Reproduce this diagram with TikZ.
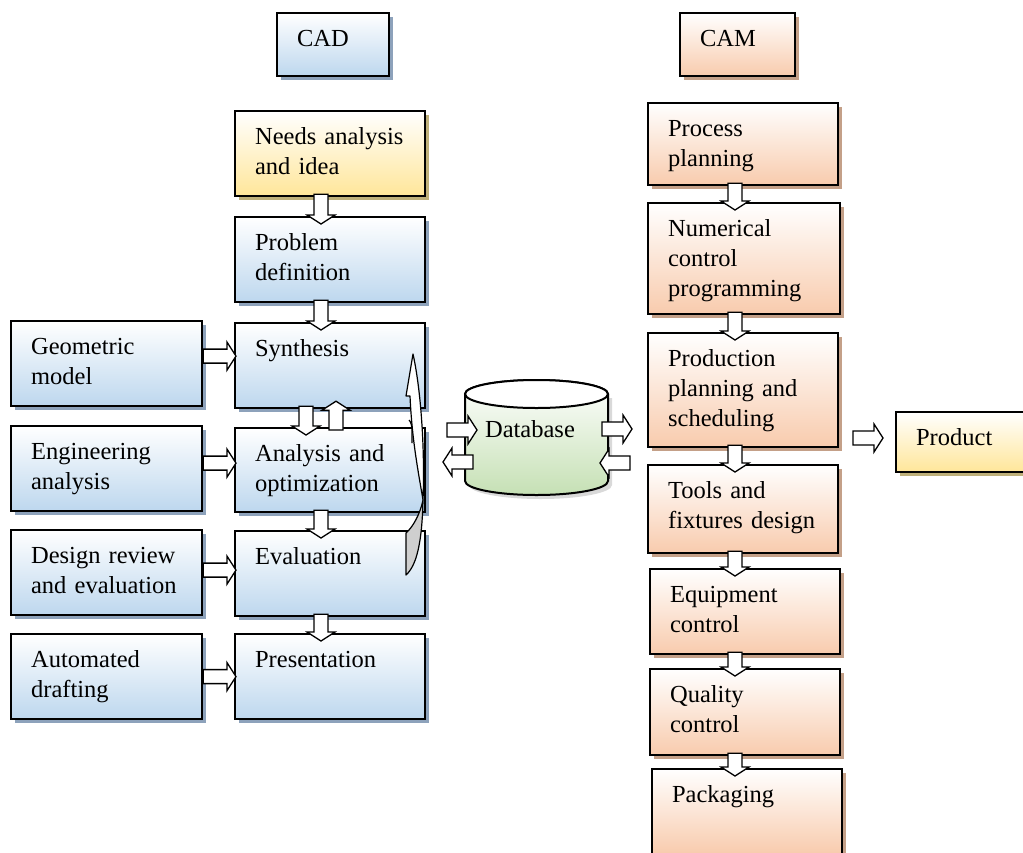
\documentclass[tikz,border=0pt]{standalone}
\usepackage{fontspec}
\setmainfont{Liberation Serif}
\usepackage{tikz}
\usetikzlibrary{calc}
\usetikzlibrary{positioning}

\definecolor{cadblue}{RGB}{189,215,238}
\definecolor{cadshadow}{RGB}{141,162,187}
\definecolor{camorange}{RGB}{248,203,173}
\definecolor{camshadow}{RGB}{196,160,136}
\definecolor{ideayellow}{RGB}{255,230,153}
\definecolor{ideashadow}{RGB}{190,176,122}
\definecolor{dbgreen}{RGB}{197,224,180}

\tikzset{
  stage/.style={draw=black, line width=2.2pt, anchor=north west,
    inner xsep=20pt, inner ysep=12pt, text width=150pt,
    text height=21pt, text depth=40pt, align=left,
    font=\fontsize{24.5pt}{30pt}\selectfont},
  cad/.style={stage, top color=white, bottom color=cadblue,
    preaction={fill=cadshadow, transform canvas={xshift=4pt,yshift=-4pt}}},
  cam/.style={stage, top color=white, bottom color=camorange,
    preaction={fill=camshadow, transform canvas={xshift=4pt,yshift=-4pt}}},
  idea/.style={stage, top color=white, bottom color=ideayellow,
    preaction={fill=ideashadow, transform canvas={xshift=4pt,yshift=-4pt}}},
  blockarrow/.style={draw=black, fill=white, line width=1.3pt, line join=miter},
  downblock/.style={blockarrow, to path={let \p1=(\tikztostart), \p2=(\tikztotarget) in
    (\x1-7pt,\y1+3pt) -- (\x1-7pt,\y2+1pt) -- (\x1-14pt,\y2+1pt) -- (\x1,\y2-8pt)
    -- (\x1+14pt,\y2+1pt) -- (\x1+7pt,\y2+1pt) -- (\x1+7pt,\y1+3pt) -- cycle}},
  upblock/.style={blockarrow, to path={let \p1=(\tikztostart), \p2=(\tikztotarget) in
    (\x1-7pt,\y1-3pt) -- (\x1-7pt,\y2-1pt) -- (\x1-14pt,\y2-1pt) -- (\x1,\y2+8pt)
    -- (\x1+14pt,\y2-1pt) -- (\x1+7pt,\y2-1pt) -- (\x1+7pt,\y1-3pt) -- cycle}},
  rightblock/.style={blockarrow, to path={let \p1=(\tikztostart), \p2=(\tikztotarget) in
    (\x1,\y1-7pt) -- (\x2-9pt,\y1-7pt) -- (\x2-9pt,\y1-14pt) -- (\x2,\y1)
    -- (\x2-9pt,\y1+14pt) -- (\x2-9pt,\y1+7pt) -- (\x1,\y1+7pt) -- cycle}},
  leftblock/.style={blockarrow, to path={let \p1=(\tikztostart), \p2=(\tikztotarget) in
    (\x1,\y1-7pt) -- (\x2+9pt,\y1-7pt) -- (\x2+9pt,\y1-14pt) -- (\x2,\y1)
    -- (\x2+9pt,\y1+14pt) -- (\x2+9pt,\y1+7pt) -- (\x1,\y1+7pt) -- cycle}},
}

\begin{document}
\begin{tikzpicture}[x=1pt, y=-1pt]
  \fill[white] (0,0) rectangle (1023,852);
  \useasboundingbox (0,0) rectangle (1023,852);

  % 标题
  \node[cad, text width=72pt, text depth=18pt] (cadtitle) at (276,12) {CAD};
  \node[cam, text width=75pt, text depth=18pt] (camtitle) at (679,12) {CAM};

  % CAD 中间一列
  \node[idea] (needs) at (234,110) {Needs analysis\\and idea};
  \node[cad] (problem) at (234,216) {Problem\\definition};
  \node[cad] (synth) at (234,322) {Synthesis};
  \node[cad, text depth=39pt] (analysis) at (234,427) {Analysis and\\optimization};
  \node[cad] (eval) at (234,530) {Evaluation};
  \node[cad] (present) at (234,633) {Presentation};

  % 左边一列
  \node[cad, text width=151pt] (geo) at (10,320) {Geometric\\model};
  \node[cad, text width=151pt] (eng) at (10,425) {Engineering\\analysis};
  \node[cad, text width=151pt] (review) at (10,529) {Design review\\and evaluation};
  \node[cad, text width=151pt] (drafting) at (10,633) {Automated\\drafting};

  % CAM 一列
  \node[cam, text depth=37pt] (process) at (647,102) {Process\\planning};
  \node[cam, text width=152pt, text depth=66pt] (nc) at (647,202) {Numerical\\control\\programming};
  \node[cam, text depth=69pt] (production) at (647,332) {Production\\planning and\\scheduling};
  \node[cam, text depth=43pt] (tools) at (647,464) {Tools and\\fixtures design};
  \node[cam] (equip) at (649,568) {Equipment\\control};
  \node[cam, text depth=41pt] (quality) at (649,668) {Quality\\control};
  \node[cam] (packaging) at (651,768) {Packaging};

  \node[idea, text width=100pt, text depth=15pt] (product) at (895,411) {Product};

  % 箭头所在的列
  \coordinate (cadcol) at (321,0);
  \coordinate (loopdown) at (306,0);
  \coordinate (loopup) at (336,0);
  \coordinate (camcol) at (735,0);

  % 向下的空心箭头
  \draw[downblock] (needs.south -| cadcol) to (problem.north);
  \draw[downblock] (problem.south -| cadcol) to (synth.north);
  \draw[downblock] (synth.south -| loopdown) to (analysis.north);
  \draw[upblock] (analysis.north -| loopup) to (synth.south);
  \draw[downblock] (analysis.south -| cadcol) to (eval.north);
  \draw[downblock] (eval.south -| cadcol) to (present.north);

  \draw[downblock] (process.south -| camcol) to (nc.north);
  \draw[downblock] (nc.south -| camcol) to (production.north);
  \draw[downblock] (production.south -| camcol) to (tools.north);
  \draw[downblock] (tools.south -| camcol) to (equip.north);
  \draw[downblock] (equip.south -| camcol) to (quality.north);
  \draw[downblock] (quality.south -| camcol) to (packaging.north);

  % 左边到中间
  \draw[rightblock] ([yshift=7.5pt]geo.east) to ([xshift=2pt]synth.west);
  \draw[rightblock] ([yshift=5.5pt]eng.east) to ([xshift=2pt]analysis.west);
  \draw[rightblock] ([yshift=2.5pt]review.east) to ([xshift=2pt]eval.west);
  \draw[rightblock] (drafting.east) to ([xshift=2pt]present.west);

  % 回到 Synthesis 的弯箭头
  \draw[line width=1.2pt, fill=white, line join=round]
    (413,354) -- (406,396) -- (410,396)
    .. controls (412,440) and (418,470) .. (423,500)
    .. controls (425,450) and (421,390) .. (413,354) -- cycle;
  \draw[line width=1.2pt, fill=gray!38, line join=round]
    (423,500) .. controls (422,545) and (416,566) .. (406,575)
    -- (406,533) .. controls (412,528) and (420,515) .. (423,500) -- cycle;
  \draw[line width=1.2pt] (409,420) .. controls (411,422) and (412,426) .. (412,430) -- (412,443);

  % 数据库圆柱
  \fill[gray!30] (469,398) -- (469,485)
    arc[start angle=180, end angle=360, x radius=71.5pt, y radius=14pt]
    -- (612,398) -- cycle;
  \draw[line width=2pt, top color=white, bottom color=dbgreen]
    (465,394) -- (465,481)
    arc[start angle=180, end angle=360, x radius=71.5pt, y radius=14pt]
    -- (608,394)
    arc[start angle=0, end angle=180, x radius=71.5pt, y radius=14pt] -- cycle;
  \draw[line width=2pt, fill=white] (536.5,394) ellipse [x radius=71.5pt, y radius=14pt];
  \node[font=\fontsize{24.5pt}{30pt}\selectfont] (db) at (530,429) {Database};

  % 数据库两边的箭头
  \coordinate (dbinA) at (447,430);
  \coordinate (dbinB) at (477,430);
  \coordinate (dboutA) at (473,462);
  \coordinate (dboutB) at (443,462);
  \coordinate (camA) at (602,429);
  \coordinate (camB) at (632,429);
  \coordinate (camC) at (630,463);
  \coordinate (camD) at (600,463);
  \coordinate (prodA) at (853,438);
  \coordinate (prodB) at (883,438);
  \draw[rightblock] (dbinA) to (dbinB);
  \draw[leftblock] (dboutA) to (dboutB);
  \draw[rightblock] (camA) to (camB);
  \draw[leftblock] (camC) to (camD);
  \draw[rightblock] (prodA) to (prodB);
\end{tikzpicture}
\end{document}
